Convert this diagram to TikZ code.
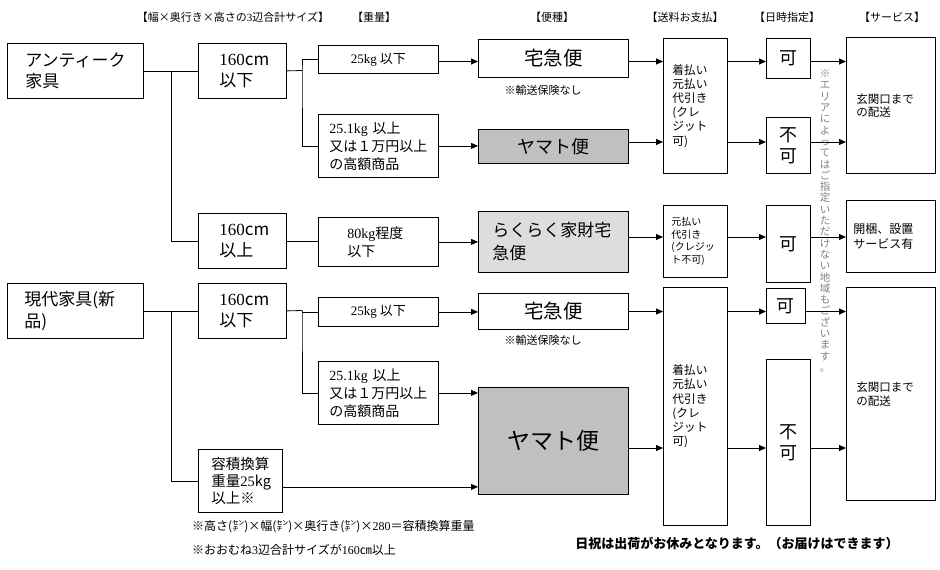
\documentclass[tikz,border=0pt]{standalone}
\usepackage{fontspec}
\setmainfont{Noto Sans CJK JP}
\newfontfamily\latnfont{Liberation Serif}
\newcommand{\latn}[1]{{\latnfont #1}}
\usepackage{tikz}
\usetikzlibrary{positioning}
\usetikzlibrary{calc}
\usetikzlibrary{arrows.meta}
\definecolor{yamatogray}{HTML}{C0C0C0}
\definecolor{rakugray}{HTML}{DDDDDD}
\definecolor{notegray}{HTML}{808080}

\begin{document}
\begin{tikzpicture}[x=1pt, y=-1pt,
    box/.style={draw, line width=0.8pt, anchor=north west, inner ysep=0pt, align=left},
    cbox/.style={draw, line width=0.8pt, anchor=north west, inner sep=0pt, align=center},
    link/.style={line width=0.8pt},
    arr/.style={link, -{Triangle[length=7pt, width=6pt]}},
    hd/.style={font=\fontsize{11}{13}\selectfont, inner sep=0pt},
    bigtxt/.style={font=\fontsize{17}{21.5}\selectfont},
    wtxt/.style={font=\fontsize{14}{18}\selectfont},
    paytxt/.style={font=\fontsize{11.7}{14.2}\selectfont},
    servtxt/.style={font=\fontsize{11.5}{13.5}\selectfont},
    katxt/.style={font=\fontsize{18}{21}\selectfont}]

    \useasboundingbox (0,0) rectangle (940,570);

    \node[hd] (h1) at (233,17) {【幅×奥行き×高さの\latn{3}辺合計サイズ】};
    \node[hd] (h2) at (374,17) {【重量】};
    \node[hd] (h3) at (552,17) {【便種】};
    \node[hd] (h4) at (685,17) {【送料お支払】};
    \node[hd] (h5) at (787,17) {【日時指定】};
    \node[hd] (h6) at (892,17) {【サービス】};

    \node[box, bigtxt, minimum height=55pt, inner xsep=18pt, text width=100pt] (antique) at (7,43) {アンティーク\\家具};
    \node[box, bigtxt, minimum height=55pt, inner xsep=17pt, text width=102pt] (modern) at (7,283) {現代家具(新\\品)};

    \node[box, bigtxt, minimum height=55pt, inner xsep=21pt, text width=46pt] (size1) at (198,43) {\latn{160}cm\\以下};
    \node[box, bigtxt, minimum height=55pt, inner xsep=21pt, text width=46pt] (size2) at (198,213) {\latn{160}cm\\以上};
    \node[box, bigtxt, minimum height=55pt, inner xsep=21pt, text width=46pt] (size3) at (198,283) {\latn{160}cm\\以下};
    \node[box, font=\fontsize{14.5}{17}\selectfont, minimum height=63pt, inner xsep=13pt, text width=58pt] (vol) at (198,449) {容積換算\\重量\latn{25}kg\\以上※};

    \node[cbox, font=\fontsize{13}{15}\selectfont, minimum width=120pt, minimum height=28pt] (w1) at (318,45) {\latn{25kg} 以下};
    \node[box, wtxt, minimum height=63pt, inner xsep=11pt, text width=98pt] (w2) at (318,114) {\latn{25.1kg} 以上\\又は１万円以上\\の高額商品};
    \node[box, wtxt, minimum height=49pt, inner xsep=29pt, text width=62pt] (w3) at (318,217) {\latn{80kg}程度\\以下};
    \node[cbox, font=\fontsize{13}{15}\selectfont, minimum width=120pt, minimum height=29pt] (w4) at (318,297) {\latn{25kg} 以下};
    \node[box, wtxt, minimum height=63pt, inner xsep=11pt, text width=98pt] (w5) at (318,361) {\latn{25.1kg} 以上\\又は１万円以上\\の高額商品};

    \node[cbox, font=\fontsize{19.5}{22}\selectfont, minimum width=150pt, minimum height=38pt] (takkyu1) at (478,39) {宅急便};
    \node[cbox, fill=yamatogray, font=\fontsize{18}{21}\selectfont, minimum width=150pt, minimum height=34pt] (yamato1) at (478,129) {ヤマト便};
    \node[box, fill=rakugray, font=\fontsize{17}{23}\selectfont, minimum height=61pt, inner xsep=14pt, text width=122pt] (raku) at (478,211) {らくらく家財宅\\急便};
    \node[cbox, font=\fontsize{19.5}{22}\selectfont, minimum width=150pt, minimum height=36pt] (takkyu2) at (478,293) {宅急便};
    \node[cbox, fill=yamatogray, font=\fontsize{23}{26}\selectfont, minimum width=150pt, minimum height=107pt] (yamato2) at (478,387) {ヤマト便};

    \node[font=\fontsize{11}{13}\selectfont, inner sep=0pt] (nohoken1) at (543,90) {※輸送保険なし};
    \node[font=\fontsize{11}{13}\selectfont, inner sep=0pt] (nohoken2) at (543,340) {※輸送保険なし};

    \node[box, paytxt, minimum height=135pt, inner xsep=9pt, text width=46pt] (pay1) at (663,38) {着払い\\元払い\\代引き\\(クレ\\ジット\\可)};
    \node[box, font=\fontsize{10}{12.7}\selectfont, minimum height=72pt, inner xsep=8pt, text width=48pt] (paymid) at (663,205) {元払い\\代引き\\(クレジッ\\ト不可)};
    \node[box, paytxt, minimum height=238pt, inner xsep=9pt, text width=46pt] (pay2) at (663,287) {着払い\\元払い\\代引き\\(クレ\\ジット\\可)};

    \node[cbox, katxt, minimum width=44pt, minimum height=40pt] (ka1) at (766,38) {可};
    \node[cbox, katxt, minimum width=44pt, minimum height=56pt] (fuka1) at (766,117) {不\\可};
    \node[cbox, katxt, minimum width=44pt, minimum height=77pt] (ka2) at (766,205) {可};
    \node[cbox, katxt, minimum width=39pt, minimum height=35pt] (ka3) at (766,288) {可};
    \node[cbox, katxt, minimum width=44pt, minimum height=166pt] (fuka2) at (766,359) {不\\可};

    \node[box, servtxt, minimum height=136pt, inner xsep=10pt, text width=69pt] (serv1) at (846,37) {玄関口まで\\の配送};
    \node[box, font=\fontsize{12}{15}\selectfont, minimum height=72pt, inner xsep=7pt, text width=75pt] (servmid) at (846,200) {開梱、設置\\サービス有};
    \node[box, servtxt, minimum height=213pt, inner xsep=10pt, text width=69pt] (serv2) at (846,287) {玄関口まで\\の配送};

    \node[text=notegray, font=\fontsize{10.5}{11.3}\selectfont, align=center, inner sep=0pt] (area) at (825,221)
        {※\\エ\\リ\\ア\\に\\よ\\っ\\て\\は\\ご\\指\\定\\い\\た\\だ\\け\\な\\い\\地\\域\\も\\ご\\ざ\\い\\ま\\す\\。};

    \node[anchor=west, font=\fontsize{12}{14}\selectfont, inner sep=0pt] (note1) at (192,527) {※高さ(㌢)×幅(㌢)×奥行き(㌢)×\latn{280}＝容積換算重量};
    \node[anchor=west, font=\fontsize{12}{14}\selectfont, inner sep=0pt] (note2) at (192,550) {※おおむね\latn{3}辺合計サイズが\latn{160}㎝以上};
    \node[font=\fontsize{13}{15}\selectfont\bfseries, inner sep=0pt] (holiday) at (737,543) {日祝は出荷がお休みとなります。（お届けはできます）};

    \coordinate (j1) at (171,70.5);
    \coordinate (j2) at (302,70.5);
    \coordinate (j3) at (171,310.5);
    \coordinate (j4) at (302,310.5);
    \coordinate (rowA) at (0,61.5);
    \coordinate (rowB) at (0,142);
    \coordinate (rowC) at (0,237);
    \coordinate (rowD) at (0,311.5);
    \coordinate (rowE) at (0,448);

    \draw[link] (antique.east) -- (size1.west);
    \draw[link] (j1) |- (size2.west);
    \draw[link] (size1.east) -- (j2);
    \draw[link] (w1.west) -| (j2) |- (w2.west);
    \draw[link] (size2.east) -- (size2.east -| w3.west);
    \draw[link] (modern.east) -- (size3.west);
    \draw[link] (j3) |- (vol.west);
    \draw[link] (size3.east) -- (j4);
    \draw[link] (w4.west) -| (j4) |- (w5.west);

    \draw[arr] (w1.east |- rowA) -- (takkyu1.west |- rowA);
    \draw[arr] (w2.east) -- (w2.east -| yamato1.west);
    \draw[arr] (w3.east) -- (w3.east -| raku.west);
    \draw[arr] (w4.east) -- (w4.east -| takkyu2.west);
    \draw[arr] (w5.east) -- (w5.east -| yamato2.west);
    \draw[arr] ([yshift=-6pt]vol.east) -- ([yshift=-6pt]vol.east -| yamato2.west);

    \draw[arr] (takkyu1.east |- rowA) -- (pay1.west |- rowA);
    \draw[arr] (yamato1.east |- rowB) -- (pay1.west |- rowB);
    \draw[arr] (raku.east |- rowC) -- (paymid.west |- rowC);
    \draw[arr] (takkyu2.east |- rowD) -- (pay2.west |- rowD);
    \draw[arr] (yamato2.east |- rowE) -- (pay2.west |- rowE);

    \draw[arr] (pay1.east |- rowA) -- (ka1.west |- rowA);
    \draw[arr] (pay1.east |- rowB) -- (fuka1.west |- rowB);
    \draw[arr] (paymid.east |- rowC) -- (ka2.west |- rowC);
    \draw[arr] (pay2.east |- rowD) -- (ka3.west |- rowD);
    \draw[arr] (pay2.east |- rowE) -- (fuka2.west |- rowE);

    \draw[arr] (ka1.east |- rowA) -- (serv1.west |- rowA);
    \draw[arr] (fuka1.east |- rowB) -- (serv1.west |- rowB);
    \draw[arr] (ka2.east |- rowC) -- (servmid.west |- rowC);
    \draw[arr] (ka3.east |- rowD) -- (serv2.west |- rowD);
    \draw[arr] (fuka2.east |- rowE) -- (serv2.west |- rowE);

\end{tikzpicture}
\end{document}
